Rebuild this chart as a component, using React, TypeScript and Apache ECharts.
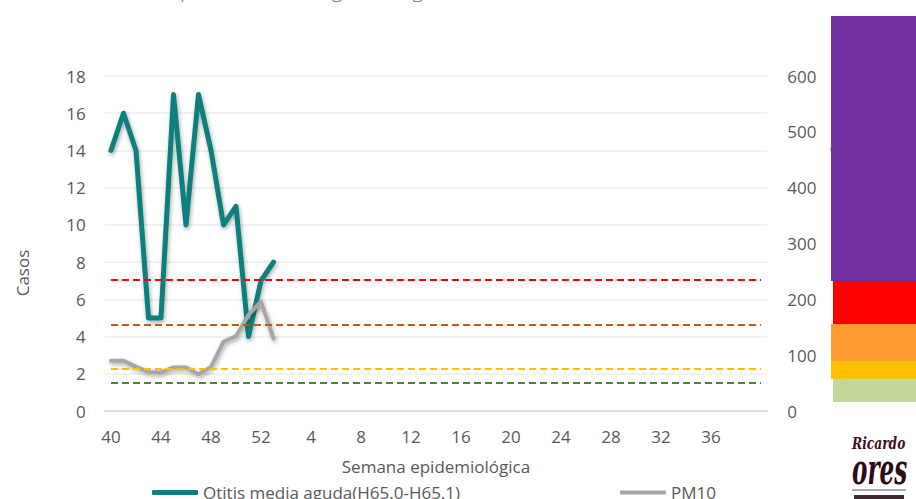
import React, { useEffect, useRef } from "react";
import * as echarts from "echarts";

// Semanas epidemiológicas (eje X)
const weeks: string[] = [
  "40", "41", "42", "43", "44", "45", "46", "47", "48", "49", "50", "51", "52",
  "1", "2", "3", "4", "5", "6", "7", "8", "9", "10", "11", "12", "13", "14", "15", "16", "17", "18", "19", "20",
  "21", "22", "23", "24", "25", "26", "27", "28", "29", "30", "31", "32", "33", "34", "35", "36", "37", "38", "39", "40",
];

// Casos de otitis media aguda (eje izquierdo)
const otitis: number[] = [14, 16, 14, 5, 5, 17, 10, 17, 14, 10, 11, 4, 7, 8];

// PM10 (eje derecho)
const pm10: number[] = [90, 90, 79, 70, 69, 78, 78, 66, 79, 124, 134, 172, 196, 130];

// Umbrales de PM10 (líneas discontinuas)
const thresholdValues: number[] = [50, 75, 155, 235];
const thresholdColors: string[] = ["#548235", "#FFC000", "#C55A11", "#FF0000"];

const leftTicks = { min: 0, max: 18, interval: 2 };
const rightTicks = { min: 0, max: 600, interval: 100 };

const FONT = "Open Sans";
const GREY_TEXT = "#595959";

export default function App() {
  const ref = useRef<HTMLDivElement>(null);

  useEffect(() => {
    if (!ref.current) return;
    const chart = echarts.init(ref.current, undefined, { renderer: "svg" });

    const lastIdx = weeks.length - 1;
    const markLineData = thresholdValues.map((v, i) => [
      { coord: [0, v], lineStyle: { color: thresholdColors[i] } },
      { coord: [lastIdx, v] },
    ]);

    const shadow = {
      shadowBlur: 4,
      shadowColor: "rgba(0,0,0,0.35)",
      shadowOffsetX: 1,
      shadowOffsetY: 2,
    };

    chart.setOption({
      animation: false,
      backgroundColor: "#ffffff",
      grid: { left: 104.75, right: 148.75, top: 76, bottom: 88, containLabel: false },
      xAxis: {
        type: "category",
        data: weeks,
        boundaryGap: true,
        axisLine: { show: true, lineStyle: { color: "#D9D9D9", width: 1.5 } },
        axisTick: { show: false },
        axisLabel: {
          interval: (idx: number) => idx % 4 === 0 && idx < lastIdx,
          color: GREY_TEXT,
          fontFamily: FONT,
          fontSize: 17,
          margin: 17,
        },
        splitLine: { show: false },
        name: "Semana epidemiológica",
        nameLocation: "middle",
        nameGap: 47,
        nameTextStyle: { color: GREY_TEXT, fontFamily: FONT, fontSize: 17 },
      },
      yAxis: [
        {
          type: "value",
          ...leftTicks,
          axisLine: { show: false },
          axisTick: { show: false },
          axisLabel: { color: GREY_TEXT, fontFamily: FONT, fontSize: 17, margin: 19 },
          splitLine: { show: true, lineStyle: { color: "#EDEDED", width: 1.5 } },
        },
        {
          type: "value",
          ...rightTicks,
          position: "right",
          axisLine: { show: false },
          axisTick: { show: false },
          axisLabel: { color: GREY_TEXT, fontFamily: FONT, fontSize: 17, margin: 20 },
          splitLine: { show: false },
        },
      ],
      legend: [
        {
          left: 147,
          top: 479,
          itemWidth: 46,
          itemHeight: 5,
          data: [{ name: "Otitis media aguda(H65.0-H65.1)", icon: "roundRect" }],
          textStyle: { color: GREY_TEXT, fontFamily: FONT, fontSize: 17 },
        },
        {
          left: 615,
          top: 479,
          itemWidth: 46,
          itemHeight: 4,
          data: [{ name: "PM10", icon: "roundRect" }],
          textStyle: { color: GREY_TEXT, fontFamily: FONT, fontSize: 17 },
        },
      ],
      series: [
        {
          name: "umbrales",
          type: "line",
          yAxisIndex: 1,
          data: [],
          silent: true,
          markLine: {
            silent: true,
            symbol: ["none", "none"],
            label: { show: false },
            lineStyle: { type: [7, 4], width: 2 },
            data: markLineData,
          },
        },
        {
          name: "Otitis media aguda(H65.0-H65.1)",
          type: "line",
          yAxisIndex: 0,
          data: otitis,
          symbol: "none",
          itemStyle: { color: "#0B7F7B" },
          lineStyle: { color: "#0B7F7B", width: 5, join: "round", cap: "round", ...shadow },
        },
        {
          name: "PM10",
          type: "line",
          yAxisIndex: 1,
          data: pm10,
          symbol: "none",
          itemStyle: { color: "#A6A6A6" },
          lineStyle: { color: "#A6A6A6", width: 4, join: "round", cap: "round", ...shadow },
        },
      ],
      graphic: [
        {
          type: "text",
          x: 458,
          y: -12,
          style: {
            text: "Comportamiento según la vigilancia de otitis media, Mexicali 2019",
            fill: "#7F7F7F",
            font: `300 22px "${FONT}"`,
            textAlign: "center",
            textVerticalAlign: "middle",
          },
        },
        {
          type: "text",
          x: 22,
          y: 273,
          rotation: Math.PI / 2,
          style: {
            text: "Casos",
            fill: GREY_TEXT,
            font: `17px "${FONT}"`,
            textAlign: "center",
            textVerticalAlign: "middle",
          },
        },
        {
          type: "text",
          x: 829,
          y: 242,
          rotation: Math.PI / 2,
          z: 1,
          style: {
            text: "Concentración PM10 (µg/m³)",
            fill: "#A0A0A0",
            font: `15px "${FONT}"`,
            textAlign: "center",
            textVerticalAlign: "top",
          },
        },
        // Escala de color (imagen en el original)
        { type: "rect", z: 10, shape: { x: 831, y: 16, width: 90, height: 265 }, style: { fill: "#7030A0" } },
        { type: "rect", z: 10, shape: { x: 833, y: 281, width: 90, height: 43 }, style: { fill: "#FF0000" } },
        { type: "rect", z: 10, shape: { x: 831, y: 324, width: 90, height: 37 }, style: { fill: "#FF9933" } },
        { type: "rect", z: 10, shape: { x: 831, y: 361, width: 90, height: 18 }, style: { fill: "#FFC000" } },
        { type: "rect", z: 10, shape: { x: 833, y: 379, width: 90, height: 23 }, style: { fill: "#C4D79B" } },
        // Logo
        {
          type: "text",
          x: 852,
          y: 434,
          z: 10,
          scaleX: 0.72,
          style: {
            text: "Ricardo",
            fill: "#3D0F1E",
            font: `italic bold 17px "DejaVu Serif"`,
            textAlign: "left",
            textVerticalAlign: "top",
          },
        },
        {
          type: "text",
          x: 852,
          y: 448,
          z: 10,
          scaleX: 0.55,
          style: {
            text: "ores",
            fill: "#2E0A16",
            font: `italic bold 42px "DejaVu Serif"`,
            textAlign: "left",
            textVerticalAlign: "top",
          },
        },
        {
          type: "line",
          z: 10,
          shape: { x1: 852, y1: 490, x2: 906, y2: 490 },
          style: { stroke: "#555555", lineWidth: 1 },
        },
        {
          type: "rect",
          z: 10,
          shape: { x: 854, y: 495, width: 50, height: 4 },
          style: { fill: "#3D2A30" },
        },
      ],
    });

    return () => {
      chart.dispose();
    };
  }, []);

  return (
    <div
      ref={ref}
      style={{ position: "fixed", left: 0, top: 0, width: 916, height: 499 }}
    />
  );
}
